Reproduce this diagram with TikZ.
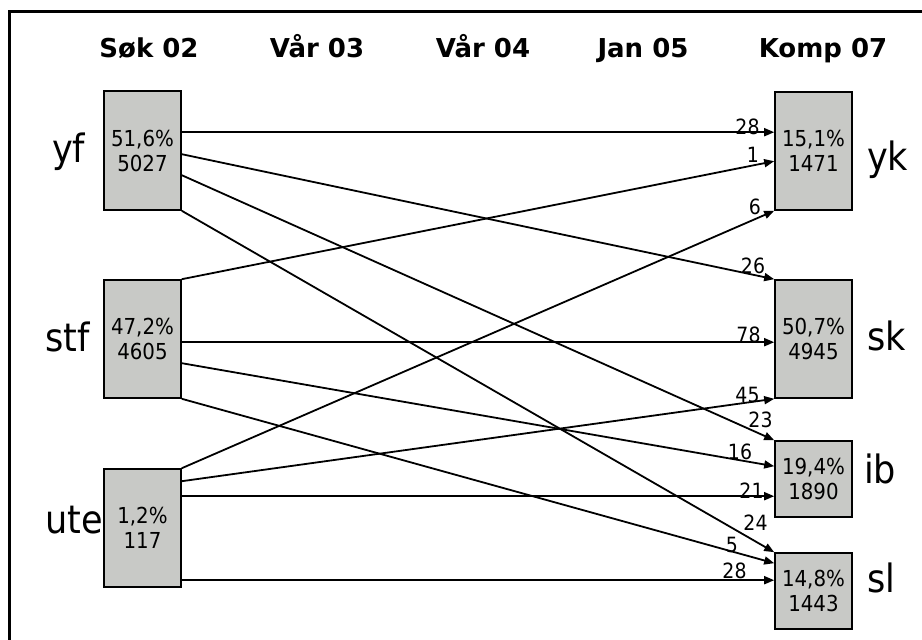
\documentclass[tikz,border=0pt]{standalone}
\usepackage{fontspec}
\setmainfont{DejaVu Sans}
\newfontfamily\condf[FakeStretch=0.9]{DejaVu Sans}
\usetikzlibrary{arrows.meta,calc}
\definecolor{boxgray}{RGB}{200,201,198}
\begin{document}
\begin{tikzpicture}[x=1pt,y=-1pt,
  box/.style={draw=black, line width=1.6pt, fill=boxgray, minimum width=77pt,
    minimum height=118pt, inner sep=0pt, align=center,
    font=\condf\fontsize{22}{25}\selectfont},
  sbox/.style={box, minimum height=76pt},
  head/.style={font=\bfseries\fontsize{26}{30}\selectfont, anchor=base, inner sep=0pt},
  side/.style={font=\condf\fontsize{39}{44}\selectfont, anchor=base west, inner sep=0pt},
  flow/.style={line width=1.8pt, -{Triangle[length=10pt,width=8pt]}},
  num/.style={font=\condf\fontsize{21}{24}\selectfont, inner sep=0pt}
]
\useasboundingbox (0,0) rectangle (922,640);
% frame
\draw[line width=3pt] (9.5,640) -- (9.5,11.5) -- (922,11.5);
% headers
\node[head] (h1) at (149,57) {Søk 02};
\node[head] (h2) at (317,57) {Vår 03};
\node[head] (h3) at (483,57) {Vår 04};
\node[head] (h4) at (643,57) {Jan 05};
\node[head] (h5) at (823,57) {Komp 07};
% left boxes
\node[box, minimum height=119pt] (yf) at (142.5,150.5) {51,6\%\\5027};
\node[box] (stf) at (142.5,339) {47,2\%\\4605};
\node[box] (ute) at (142.5,528) {1,2\%\\117};
% right boxes
\node[box] (yk) at (813.5,151) {15,1\%\\1471};
\node[box] (sk) at (813.5,339) {50,7\%\\4945};
\node[sbox] (ib) at (813.5,479) {19,4\%\\1890};
\node[sbox] (sl) at (813.5,591) {14,8\%\\1443};
% side labels
\node[side] (lyf) at (52,162) {yf};
\node[side] (lstf) at (45,351) {stf};
\node[side] (lute) at (45,533) {ute};
\node[side] (lyk) at (867,170) {yk};
\node[side] (lsk) at (867,350) {sk};
\node[side] (lib) at (864,483) {ib};
\node[side] (lsl) at (867,592) {sl};
% connectors
\draw[flow] ($(yf.north east)+(0,42)$) -- ($(yk.north west)+(0,41)$);
\draw[flow] ($(yf.north east)+(0,64)$) -- (sk.north west);
\draw[flow] ($(yf.north east)+(0,85)$) -- (ib.north west);
\draw[flow] (yf.south east) -- (sl.north west);
\draw[flow] (stf.north east) -- ($(yk.north west)+(0,70)$);
\draw[flow] ($(stf.north east)+(0,63)$) -- ($(sk.north west)+(0,63)$);
\draw[flow] ($(stf.north east)+(0,84)$) -- ($(ib.north west)+(0,26)$);
\draw[flow] (stf.south east) -- ($(sl.north west)+(0,11)$);
\draw[flow] (ute.north east) -- (yk.south west);
\draw[flow] ($(ute.north east)+(0,13)$) -- (sk.south west);
\draw[flow] ($(ute.north east)+(0,28)$) -- ($(ib.north west)+(0,56)$);
\draw[flow] ($(ute.north east)+(0,112)$) -- ($(sl.north west)+(0,28)$);
% flow numbers
\node[num] (n1) at (747.5,126.5) {28};
\node[num] (n2) at (753,155) {1};
\node[num] (n3) at (755,207) {6};
\node[num] (n4) at (753,266) {26};
\node[num] (n5) at (748.5,335) {78};
\node[num] (n6) at (747.5,395) {45};
\node[num] (n7) at (760.5,420) {23};
\node[num] (n8) at (740,452) {16};
\node[num] (n9) at (751.5,491) {21};
\node[num] (n10) at (755.5,523) {24};
\node[num] (n11) at (732,545) {5};
\node[num] (n12) at (734.5,571) {28};
\end{tikzpicture}
\end{document}
